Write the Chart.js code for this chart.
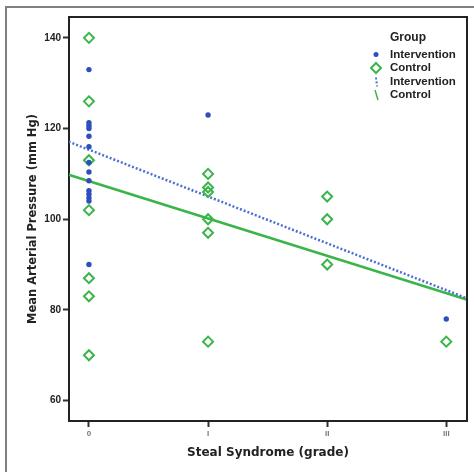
<!DOCTYPE html>
<html>
<head>
<meta charset="utf-8">
<script src="https://cdn.jsdelivr.net/npm/chart.js@4.4.0/dist/chart.umd.min.js"></script>
<style>
  html, body { margin: 0; padding: 0; background: #fff; }
  #wrap { width: 474px; height: 472px; }
</style>
</head>
<body>
<div id="wrap"><canvas id="mapChart" width="474" height="472"></canvas></div>
<script>
// Steal syndrome grade on x (0..III), MAP on y
const gradeLabels = ['0', 'I', 'II', 'III'];
const yTicks = [60, 80, 100, 120, 140];

const interventionX = [0, 0, 0, 0, 0, 0, 0, 0, 0, 0, 0, 0, 0, 0, 1, 3];
const interventionY = [133, 121.3, 120.6, 120, 118.3, 116, 112.5, 110.4, 108.5, 106.3, 105.5, 104.7, 104, 90, 123, 78];

const controlX = [0, 0, 0, 0, 0, 0, 0, 1, 1, 1, 1, 1, 1, 2, 2, 2, 3];
const controlY = [140, 126, 113, 102, 87, 83, 70, 110, 107, 106, 100, 97, 73, 105, 100, 90, 73];

// fit lines, read where they meet the plot frame
const fitX = [-0.17, 3.17];
const interventionFit = [117.1, 82.6];
const controlFit = [109.8, 82.3];

const BLUE = '#2c4fbd';
const BLUE_LINE = '#4d6fd3';
const GREEN = '#3bb54a';
const FONT = '"Liberation Sans", Arial, sans-serif';
const WIDE = '"DejaVu Sans", sans-serif';

const toPoints = (xs, ys) => xs.map((x, i) => ({ x: x, y: ys[i] }));

// white page, outer frame, plot top/right border and the legend
const framePlugin = {
    id: 'frame',
    beforeDraw(chart) {
        const ctx = chart.ctx;
        ctx.save();
        ctx.fillStyle = '#fff';
        ctx.fillRect(0, 0, chart.width, chart.height);
        ctx.strokeStyle = '#808080';
        ctx.lineWidth = 2;
        ctx.beginPath();
        ctx.moveTo(6, chart.height);
        ctx.lineTo(6, 7);
        ctx.lineTo(chart.width, 7);
        ctx.stroke();
        ctx.restore();
    },
    afterDraw(chart) {
        const ctx = chart.ctx;
        const a = chart.chartArea;
        ctx.save();
        ctx.strokeStyle = '#222';
        ctx.lineWidth = 2;
        ctx.beginPath();
        ctx.moveTo(a.left, a.top);
        ctx.lineTo(a.right, a.top);
        ctx.lineTo(a.right, a.bottom);
        ctx.stroke();

        // legend
        const mx = 376, tx = 390;
        ctx.fillStyle = '#222';
        ctx.textBaseline = 'middle';
        ctx.font = 'bold 12px ' + FONT;
        ctx.fillText('Group', tx, 38);
        ctx.font = 'bold 11.5px ' + FONT;
        const rows = [54.5, 68, 81.5, 95];
        const names = ['Intervention', 'Control', 'Intervention', 'Control'];
        names.forEach((n, i) => ctx.fillText(n, tx, rows[i]));

        ctx.fillStyle = BLUE;
        ctx.beginPath();
        ctx.arc(mx, rows[0], 2.5, 0, Math.PI * 2);
        ctx.fill();

        ctx.strokeStyle = GREEN;
        ctx.lineWidth = 2;
        ctx.beginPath();
        ctx.moveTo(mx, rows[1] - 5);
        ctx.lineTo(mx + 5, rows[1]);
        ctx.lineTo(mx, rows[1] + 5);
        ctx.lineTo(mx - 5, rows[1]);
        ctx.closePath();
        ctx.stroke();

        ctx.strokeStyle = BLUE_LINE;
        ctx.setLineDash([2, 2]);
        ctx.beginPath();
        ctx.moveTo(mx, rows[2] - 4);
        ctx.lineTo(mx + 1, rows[2] + 5);
        ctx.stroke();
        ctx.setLineDash([]);

        ctx.strokeStyle = GREEN;
        ctx.lineWidth = 1.5;
        ctx.beginPath();
        ctx.moveTo(mx - 1, rows[3] - 5);
        ctx.lineTo(mx + 2, rows[3] + 5);
        ctx.stroke();
        ctx.restore();
    }
};

const chart = new Chart(document.getElementById('mapChart'), {
    type: 'scatter',
    data: {
        datasets: [
            {
                label: 'Intervention',
                data: toPoints(interventionX, interventionY),
                pointStyle: 'circle',
                pointRadius: 2.7,
                pointBackgroundColor: BLUE,
                pointBorderWidth: 0,
                order: 1
            },
            {
                label: 'Control',
                data: toPoints(controlX, controlY),
                pointStyle: 'rectRot',
                pointRadius: 5,
                pointBackgroundColor: 'rgba(255,255,255,0)',
                pointBorderColor: GREEN,
                pointBorderWidth: 2,
                order: 2
            },
            {
                label: 'Intervention fit',
                data: toPoints(fitX, interventionFit),
                showLine: true,
                borderColor: BLUE_LINE,
                borderWidth: 2.5,
                borderDash: [2, 2],
                pointRadius: 0,
                order: 3
            },
            {
                label: 'Control fit',
                data: toPoints(fitX, controlFit),
                showLine: true,
                borderColor: GREEN,
                borderWidth: 2.5,
                pointRadius: 0,
                order: 4
            }
        ]
    },
    options: {
        responsive: false,
        devicePixelRatio: 1,
        animation: false,
        layout: { padding: { left: 0, top: 17, right: 6, bottom: 0 } },
        plugins: {
            legend: { display: false },
            tooltip: { enabled: false }
        },
        scales: {
            x: {
                type: 'linear',
                min: -0.1675,
                max: 3.174,
                afterBuildTicks: scale => { scale.ticks = gradeLabels.map((_, i) => ({ value: i })); },
                afterFit: scale => { scale.height = 51; },
                ticks: {
                    callback: v => gradeLabels[v],
                    color: '#777',
                    font: { family: FONT, size: 8, weight: 'bold' },
                    padding: 2,
                    maxRotation: 0
                },
                grid: { drawOnChartArea: false, tickLength: 6, tickWidth: 2, tickColor: '#333' },
                border: { color: '#222', width: 2 },
                title: {
                    display: true,
                    text: 'Steal Syndrome (grade)',
                    color: '#222',
                    font: { family: WIDE, size: 12, weight: 'bold' },
                    padding: { top: 0, bottom: 12 }
                }
            },
            y: {
                min: 55.5,
                max: 144.6,
                afterBuildTicks: scale => { scale.ticks = yTicks.map(v => ({ value: v })); },
                afterFit: scale => { scale.width = 69; },
                ticks: {
                    color: '#222',
                    font: { family: FONT, size: 10, weight: 'bold' },
                    padding: 2
                },
                grid: { drawOnChartArea: false, tickLength: 6, tickWidth: 2, tickColor: '#333' },
                border: { color: '#222', width: 2 },
                title: {
                    display: true,
                    text: 'Mean Arterial Pressure (mm Hg)',
                    color: '#222',
                    font: { family: WIDE, size: 11.5, weight: 'bold' },
                    padding: { top: 26, bottom: 0 }
                }
            }
        }
    },
    plugins: [framePlugin]
});
</script>
</body>
</html>
